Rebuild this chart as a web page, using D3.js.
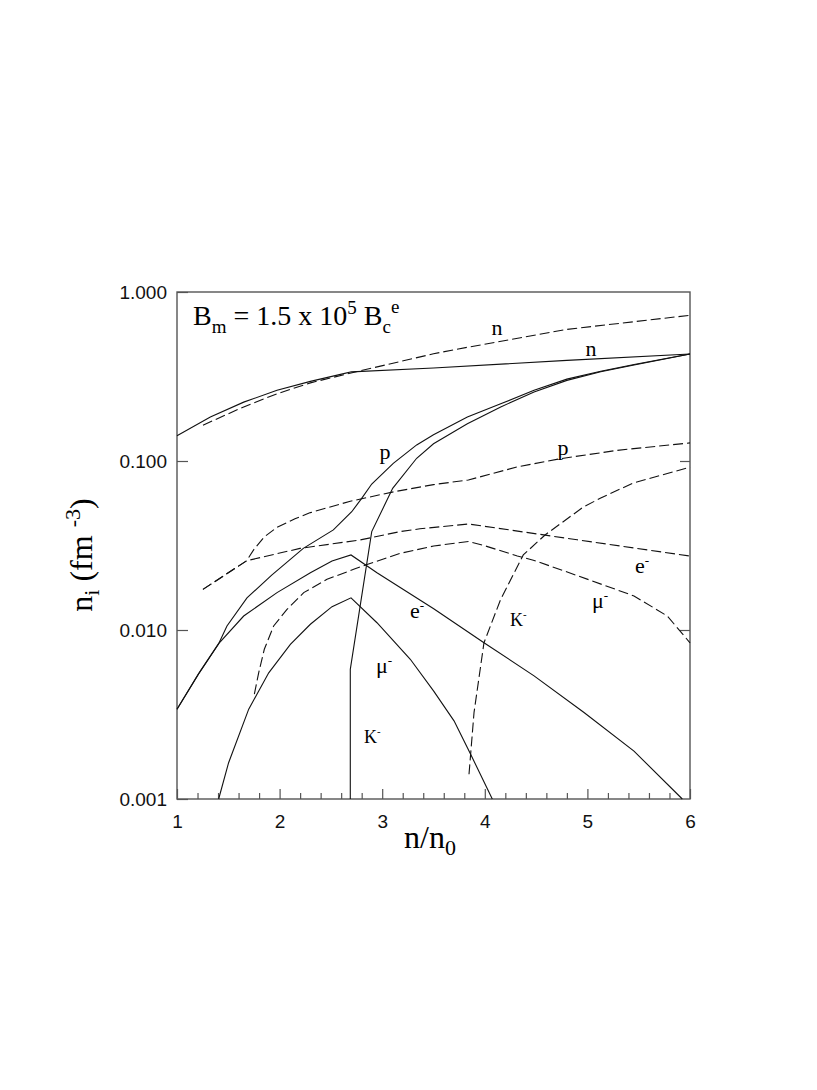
<!DOCTYPE html>
<html><head><meta charset="utf-8">
<script src="https://cdn.jsdelivr.net/npm/d3@7"></script>
<style>body{margin:0;background:#fff}</style>
</head><body><svg id="c" width="817" height="1090"></svg>
<script>
// ---------- data ----------
const xMajorTicks = [1, 2, 3, 4, 5, 6];
const xMinorTicks = [1.2,1.4,1.6,1.8,2.2,2.4,2.6,2.8,3.2,3.4,3.6,3.8,4.2,4.4,4.6,4.8,5.2,5.4,5.6,5.8];
const yTicks = [0.001, 0.01, 0.1, 1];
const yInnerTicks = [0.01, 0.1];

// solid curves
const nSolid = [[1.0,0.141],[1.325,0.182],[1.65,0.223],[1.975,0.262],[2.30,0.296],[2.625,0.329],[2.70,0.337],[3.5,0.355],[4.8,0.394],[6.0,0.430]];
const pSolid = [[1.0,0.0034],[1.21,0.0055],[1.325,0.0070],[1.406,0.0083],[1.487,0.01057],[1.682,0.0155],[1.923,0.0211],[2.231,0.0304],[2.524,0.0391],[2.703,0.0501],[2.80,0.0601],[2.898,0.0731],[3.108,0.0968],[3.336,0.1245],[3.50,0.143],[3.83,0.182],[4.155,0.218],[4.48,0.262],[4.8,0.305],[5.13,0.340],[5.455,0.372],[6.0,0.430]];
const kSolid = [[2.689,0.001],[2.689,0.00585],[2.898,0.0382],[3.102,0.0689],[3.336,0.1038],[3.50,0.1264],[3.83,0.166],[4.155,0.209],[4.48,0.256],[4.8,0.300],[5.13,0.337],[5.455,0.370],[6.0,0.430]];
const eSolid = [[1.0,0.0034],[1.21,0.0055],[1.325,0.0070],[1.406,0.0083],[1.65,0.0121],[1.975,0.01664],[2.30,0.0218],[2.511,0.0256],[2.696,0.0278],[2.949,0.0218],[3.502,0.01337],[3.992,0.00841],[4.48,0.00535],[4.967,0.00325],[5.454,0.00192],[5.925,0.001]];
const muSolid = [[1.406,0.001],[1.503,0.00164],[1.699,0.0034],[1.894,0.00558],[2.105,0.00822],[2.30,0.01081],[2.511,0.01375],[2.696,0.0155],[2.949,0.01104],[3.274,0.00671],[3.502,0.00435],[3.70,0.0029],[3.862,0.00184],[4.073,0.001]];

// dashed curves
const nDashed = [[1.253,0.163],[1.65,0.209],[1.975,0.250],[2.30,0.290],[2.77,0.340],[3.5,0.431],[3.84,0.472],[4.12,0.506],[4.80,0.601],[6.0,0.728]];
const pDashed = [[1.253,0.0174],[1.679,0.0257],[1.75,0.030],[1.85,0.0355],[1.975,0.0405],[2.15,0.0455],[2.30,0.0495],[2.689,0.0578],[3.11,0.0657],[3.50,0.0725],[3.84,0.0772],[4.317,0.0923],[4.74,0.1033],[5.29,0.1156],[6.0,0.128]];
const eDashed = [[1.253,0.0174],[1.679,0.0257],[2.199,0.0304],[2.784,0.0341],[3.173,0.0382],[3.368,0.0397],[3.84,0.0424],[4.9,0.0342],[6.0,0.0274]];
const muDashed = [[1.754,0.00417],[1.796,0.00558],[1.851,0.00769],[1.942,0.01057],[2.072,0.01324],[2.235,0.01664],[2.462,0.01995],[2.722,0.02285],[2.852,0.0244],[3.173,0.0284],[3.502,0.0314],[3.84,0.0334],[4.0,0.0315],[4.317,0.0274],[4.473,0.0259],[4.9,0.021],[5.454,0.0159],[5.779,0.0121],[6.0,0.0084]];
const kDashed = [[3.846,0.0014],[3.895,0.00325],[3.992,0.00841],[4.155,0.0152],[4.375,0.0278],[4.587,0.0365],[4.96,0.0534],[5.13,0.0604],[5.447,0.0741],[6.0,0.092]];

// ---------- drawing ----------
const svg = d3.select('#c');
svg.append('rect').attr('width',817).attr('height',1090).attr('fill','#fff');
const L=177, R=690, T=292, B=799;
const x = d3.scaleLinear().domain([1,6]).range([L,R]);
const y = d3.scaleLog().domain([0.001,1]).range([B,T]);
const serif = '"Liberation Serif","Times New Roman",serif';
const sans = '"Liberation Sans",Arial,sans-serif';
const axisColor = '#555';

// axes
const gMinor = svg.append('g').attr('transform',`translate(0,${B})`)
  .call(d3.axisBottom(x).tickValues(xMinorTicks).tickSize(-6).tickFormat(''));
const gMajor = svg.append('g').attr('transform',`translate(0,${B})`)
  .call(d3.axisBottom(x).tickValues(xMajorTicks).tickSize(-10).tickPadding(16).tickFormat(d3.format('d')));
const gLeft = svg.append('g').attr('transform',`translate(${L},0)`)
  .call(d3.axisLeft(y).tickValues(yTicks).tickSize(-11).tickPadding(10).tickFormat(d3.format('.3f')));
const gRight = svg.append('g').attr('transform',`translate(${R},0)`)
  .call(d3.axisRight(y).tickValues(yInnerTicks).tickSize(-10).tickFormat(''));
[gMinor,gMajor,gLeft,gRight].forEach(g=>{
  g.select('.domain').remove();
  g.selectAll('line').attr('stroke',axisColor).attr('stroke-width',1.2);
  g.selectAll('text').attr('font-family',sans).attr('font-size',19).attr('fill','#111');
});

svg.append('rect').attr('x',L).attr('y',T).attr('width',R-L).attr('height',B-T)
  .attr('fill','none').attr('stroke',axisColor).attr('stroke-width',1.4);

// curves
const line = d3.line().x(d=>x(d[0])).y(d=>y(d[1]));
const solids = [nSolid,pSolid,kSolid,eSolid,muSolid];
const dashed = [nDashed,pDashed,eDashed,muDashed,kDashed];
svg.append('g').selectAll('path').data(solids).join('path')
  .attr('d',line).attr('fill','none').attr('stroke','#111').attr('stroke-width',1.1);
svg.append('g').selectAll('path').data(dashed).join('path')
  .attr('d',line).attr('fill','none').attr('stroke','#111').attr('stroke-width',1.1)
  .attr('stroke-dasharray','10,4');

// curve labels
function label(px,py,main,sup,size,anchor){
  const t = svg.append('text').attr('x',px).attr('y',py).attr('font-family',serif)
    .attr('font-size',size).attr('fill','#000').attr('text-anchor',anchor||'start');
  t.append('tspan').text(main);
  if(sup) t.append('tspan').attr('font-size',size*0.6).attr('dy',-size*0.42).text(sup);
}
label(497,335,'n',null,22,'middle');
label(591,356,'n',null,22,'middle');
label(563,455,'p',null,22,'middle');
label(385,459,'p',null,22,'middle');
label(410,618,'e','-',22);
label(376,673,'μ','-',22);
label(364,743,'K','-',18);
label(635,573,'e','-',22);
label(592,608,'μ','-',22);
label(510,626,'K','-',18);

// annotation
const ann = svg.append('text').attr('x',193).attr('y',325).attr('font-family',serif)
  .attr('font-size',28).attr('fill','#000');
ann.append('tspan').text('B');
ann.append('tspan').attr('font-size',19).attr('dy',8).text('m');
ann.append('tspan').attr('dy',-8).text(' = 1.5 x 10');
ann.append('tspan').attr('font-size',19).attr('dy',-11).text('5');
ann.append('tspan').attr('dy',11).text(' B');
ann.append('tspan').attr('font-size',19).attr('dy',8).text('c');
ann.append('tspan').attr('font-size',19).attr('dy',-20).text('e');

// x title
const xt = svg.append('text').attr('x',430).attr('y',848).attr('text-anchor','middle')
  .attr('font-family',serif).attr('font-size',32).attr('fill','#000');
xt.append('tspan').text('n/n');
xt.append('tspan').attr('font-size',22).attr('dy',7).text('0');

// y title
const yt = svg.append('text').attr('transform','translate(92,555) rotate(-90)')
  .attr('text-anchor','middle').attr('font-family',serif).attr('font-size',32).attr('fill','#000');
yt.append('tspan').text('n');
yt.append('tspan').attr('font-size',22).attr('dy',7).text('i');
yt.append('tspan').attr('dy',-7).text(' (fm ');
yt.append('tspan').attr('font-size',22).attr('dy',-12).text('-3');
yt.append('tspan').attr('dy',12).text(')');
</script></body></html>
